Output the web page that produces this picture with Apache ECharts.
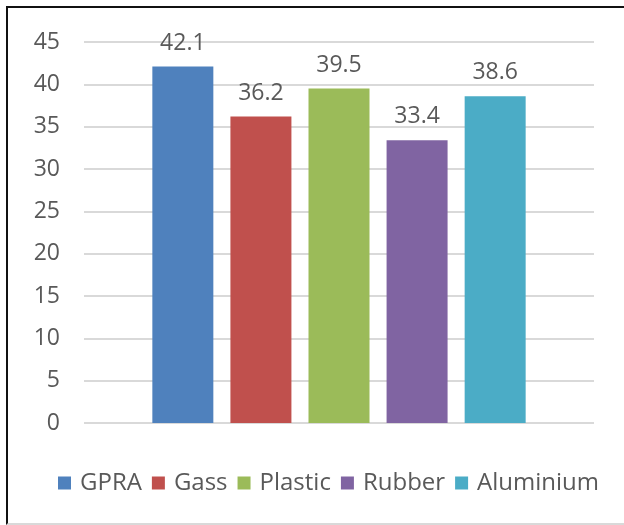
<!DOCTYPE html>
<html>
<head>
<meta charset="utf-8">
<script src="https://cdn.jsdelivr.net/npm/echarts@6/dist/echarts.min.js"></script>
<style>
  html, body { margin: 0; padding: 0; background: #fff; }
  #frame {
    position: absolute; left: 6px; top: 6px; width: 640px; height: 515px;
    border-top: 2px solid #111; border-left: 2px solid #111;
    border-bottom: 2px solid #d9d9d9;
  }
  #chart { position: absolute; left: 0; top: 0; width: 624px; height: 525px; }
</style>
</head>
<body>
<div id="frame"></div>
<div id="chart"></div>
<script>
const materials = ['GPRA', 'Gass', 'Plastic', 'Rubber', 'Aluminium'];
const values = [42.1, 36.2, 39.5, 33.4, 38.6];
const colors = ['#4F81BD', '#C0504D', '#9BBB59', '#8064A2', '#4BACC6'];

const font = '"Open Sans", "DejaVu Sans", sans-serif';

let chart = echarts.init(document.getElementById('chart'), null, { renderer: 'canvas' });

let series = materials.map((name, i) => ({
  name: name,
  type: 'bar',
  data: [values[i]],
  barWidth: 61,
  barGap: '28%',
  itemStyle: { color: colors[i] },
  label: {
    show: true,
    position: 'top',
    distance: 12,
    color: '#595959',
    fontSize: 23,
    fontFamily: font,
  },
}));

chart.setOption({
  animation: false,
  grid: { left: 84, right: 30, top: 42, bottom: 102 },
  legend: {
    bottom: 25,
    left: 53,
    itemWidth: 13,
    itemHeight: 13,
    itemGap: 10,
    icon: 'rect',
    textStyle: { color: '#595959', fontSize: 24, fontFamily: font, padding: [0, 0, 0, 4] },
    data: materials,
  },
  xAxis: {
    type: 'category',
    data: [''],
    axisLine: { show: false },
    axisTick: { show: false },
    axisLabel: { show: false },
  },
  yAxis: {
    type: 'value',
    min: 0,
    max: 45,
    interval: 5,
    axisLine: { show: false },
    axisTick: { show: false },
    axisLabel: { color: '#595959', fontSize: 23, fontFamily: font, margin: 24 },
    splitLine: { lineStyle: { color: '#d9d9d9', width: 2 } },
  },
  series: series,
});
</script>
</body>
</html>
